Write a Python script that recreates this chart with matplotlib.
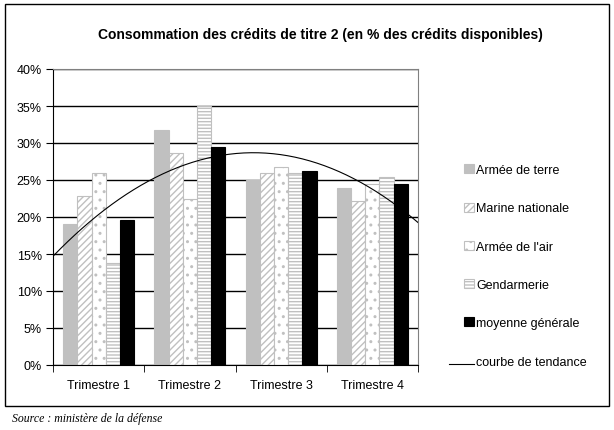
import numpy as np
import matplotlib
matplotlib.use('Agg')
import matplotlib.pyplot as plt
from matplotlib.patches import Rectangle, Patch
from matplotlib.lines import Line2D
from matplotlib.legend_handler import HandlerBase
from matplotlib.ticker import PercentFormatter

plt.rcParams['font.family'] = ['Liberation Sans', 'DejaVu Sans']
plt.rcParams['hatch.linewidth'] = 1.0

trimestres = ['Trimestre 1', 'Trimestre 2', 'Trimestre 3', 'Trimestre 4']
terre = [19.0, 31.8, 25.0, 23.9]
marine = [22.8, 28.7, 26.0, 22.1]
air = [26.0, 22.4, 26.8, 24.4]
gendarmerie = [13.8, 35.0, 26.0, 25.4]
moyenne = [19.6, 29.5, 26.2, 24.5]

series = [
    ('Armée de terre', terre, dict(facecolor='#c0c0c0', edgecolor='#c0c0c0')),
    ('Marine nationale', marine, dict(facecolor='white', edgecolor='#c0c0c0', hatch='/////')),
    ("Armée de l'air", air, dict(facecolor='white', edgecolor='#c0c0c0', hatch='..')),
    ('Gendarmerie', gendarmerie, dict(facecolor='white', edgecolor='#c0c0c0', hatch='-----')),
    ('moyenne générale', moyenne, dict(facecolor='black', edgecolor='black')),
]

fig = plt.figure(figsize=(6.14, 4.31), dpi=100)
ax = fig.add_axes([53/614, 65/431, 365/614, 296/431])

x = np.arange(len(trimestres))
w = 0.78 / len(series)
handles = []
for i, (name, vals, style) in enumerate(series):
    ax.bar(x - 0.39 + w*(i + 0.5), vals, w, linewidth=0.8, zorder=2, **style)
    handles.append(Patch(label=name, linewidth=0.8, **style))

# tendance polynomiale (ordre 2) sur la moyenne
coef = np.polyfit(x, moyenne, 2)
xt = np.linspace(-0.5, 3.5, 200)
ax.plot(xt, np.polyval(coef, xt), color='black', linewidth=0.8, zorder=3)
trend = Line2D([], [], color='black', linewidth=0.8, label='courbe de tendance')
handles.append(trend)

ax.set_xlim(-0.5, 3.5)
ax.set_ylim(0, 40)
ax.set_yticks(range(0, 41, 5))
ax.yaxis.set_major_formatter(PercentFormatter(decimals=0))
ax.yaxis.grid(True, color='black', linewidth=1)
ax.set_axisbelow(True)
ax.set_xticks(x)
ax.set_xticklabels(trimestres)
ax.set_xticks(np.arange(-0.5, 4, 1), minor=True)
ax.tick_params(axis='x', which='major', length=0, pad=10)
ax.tick_params(axis='x', which='minor', length=5, direction='out')
ax.tick_params(axis='y', length=5, direction='out', pad=3)
ax.tick_params(labelsize=9)
ax.spines['top'].set_color('#808080')
ax.spines['right'].set_color('#808080')

class LowLine(HandlerBase):
    def create_artists(self, legend, orig, xdescent, ydescent, width, height, fontsize, trans):
        y = -ydescent + 0.5
        l = Line2D([-xdescent - 1.6*width, width - xdescent], [y, y],
                   color='black', linewidth=0.8, transform=trans)
        return [l]

fig.legend(handles=handles, handler_map={trend: LowLine()}, frameon=False,
           loc='upper left', bbox_to_anchor=(453/614, 1 - 154/431),
           fontsize=9, handlelength=0.75, handleheight=0.75,
           handletextpad=0.2, labelspacing=2.1)

fig.add_artist(Rectangle((5/614, 24/431), 604/614, 402/431, transform=fig.transFigure,
                         fill=False, edgecolor='black', linewidth=1))
fig.text(320/614, 1 - 35/431, 'Consommation des crédits de titre 2 (en % des crédits disponibles)',
         ha='center', va='center', fontsize=10, fontweight='bold')
fig.text(12/614, 1 - 419/431, 'Source : ministère de la défense', ha='left', va='center',
         fontsize=8.5, style='italic', family=['Liberation Serif', 'DejaVu Serif'])

fig.savefig('out.png', dpi=100)
